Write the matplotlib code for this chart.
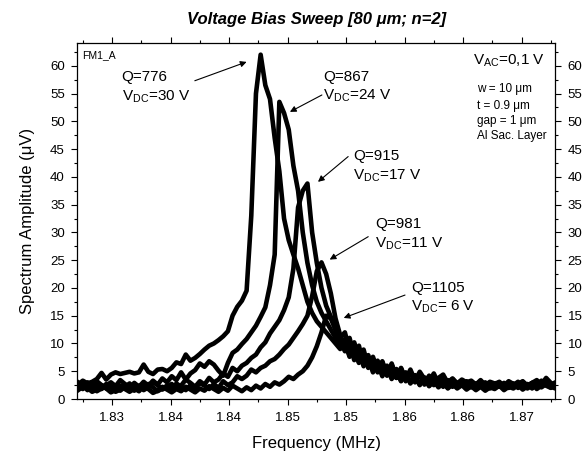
import matplotlib
matplotlib.use("Agg")
import matplotlib.pyplot as plt
from matplotlib.ticker import FixedLocator

plt.rcParams['font.family'] = ['Liberation Sans', 'DejaVu Sans']
plt.rcParams['mathtext.fontset'] = 'custom'
plt.rcParams['mathtext.rm'] = 'Liberation Sans'
plt.rcParams['mathtext.it'] = 'Liberation Sans:italic'
plt.rcParams['mathtext.bf'] = 'Liberation Sans:bold'

# sweep frequencies (MHz)
freq = [
    1.8296, 1.8300, 1.8304, 1.8308, 1.8312, 1.8316, 1.8320, 1.8324, 1.8328, 1.8332,
    1.8336, 1.8340, 1.8344, 1.8348, 1.8352, 1.8356, 1.8360, 1.8364, 1.8368, 1.8372,
    1.8376, 1.8380, 1.8384, 1.8388, 1.8392, 1.8396, 1.8400, 1.8404, 1.8408, 1.8412,
    1.8416, 1.8420, 1.8424, 1.8428, 1.8432, 1.8436, 1.8440, 1.8444, 1.8448, 1.8452,
    1.8456, 1.8460, 1.8464, 1.8468, 1.8472, 1.8476, 1.8480, 1.8484, 1.8488, 1.8492,
    1.8496, 1.8500, 1.8504, 1.8508, 1.8512, 1.8516, 1.8520, 1.8524, 1.8528, 1.8532,
    1.8536, 1.8540, 1.8544, 1.8548, 1.8552, 1.8556, 1.8560, 1.8564, 1.8568, 1.8572,
    1.8576, 1.8580, 1.8584, 1.8588, 1.8592, 1.8596, 1.8600, 1.8604, 1.8608, 1.8612,
    1.8616, 1.8620, 1.8624, 1.8628, 1.8632, 1.8636, 1.8640, 1.8644, 1.8648, 1.8652,
    1.8656, 1.8660, 1.8664, 1.8668, 1.8672, 1.8676, 1.8680, 1.8684, 1.8688, 1.8692,
    1.8696, 1.8700, 1.8704,
]

# spectrum amplitude (uV) for each DC bias
amp_30v = [
    2.6, 3.3, 2.8, 3.1, 3.6, 4.7, 3.5, 4.4, 4.8, 4.5,
    4.7, 4.9, 4.6, 4.8, 6.2, 4.9, 4.5, 5.3, 5.4, 5.0,
    5.6, 6.6, 6.3, 8.0, 6.9, 7.4, 8.1, 8.9, 9.6, 10.0,
    10.6, 11.3, 12.2, 15.0, 16.6, 17.7, 19.5, 33.0, 55.0, 62.0,
    56.5, 54.0, 47.0, 41.0, 32.5, 28.6, 26.0, 23.5, 20.5, 17.5,
    15.5, 14.0, 13.0, 12.0, 11.0, 10.0, 9.0, 10.2, 7.6, 9.0,
    6.5, 8.0, 5.6, 7.2, 5.0, 6.8, 4.4, 6.2, 3.9, 5.6,
    3.6, 5.3, 3.3, 4.9, 3.6, 3.1, 4.6, 2.8, 4.1, 3.0,
    3.7, 2.8, 3.5, 3.0, 3.3, 2.6, 3.4, 2.5, 3.1, 2.8,
    3.0, 2.4, 3.2, 2.7, 2.5, 3.1, 2.3, 2.9, 3.4, 2.6,
    3.8, 2.9, 2.4,
]
amp_24v = [
    3.0, 2.4, 1.6, 2.1, 3.2, 2.5, 1.9, 2.8, 2.3, 3.4,
    2.7, 2.0, 2.9, 2.2, 3.1, 2.4, 3.3, 2.6, 3.7, 3.0,
    4.1, 3.4, 4.8, 3.5, 4.6, 5.2, 6.4, 5.8, 6.8, 6.2,
    5.1, 4.2, 6.5, 8.3, 8.9, 9.9, 10.8, 12.0, 13.2, 14.8,
    16.5, 20.5, 26.0, 53.5, 51.5, 48.5, 42.0, 37.5, 30.0, 24.5,
    20.5, 17.5, 15.5, 14.0, 12.5, 11.0, 9.5, 10.6, 7.8, 9.4,
    6.6, 8.1, 5.9, 7.3, 4.8, 6.5, 4.2, 6.0, 3.8, 5.4,
    3.2, 4.8, 3.0, 4.5, 2.6, 4.0, 2.5, 3.7, 2.2, 3.4,
    2.2, 2.9, 2.5, 3.2, 2.1, 2.8, 2.3, 3.0, 1.9, 2.6,
    2.2, 2.9, 2.0, 2.5, 3.1, 2.2, 2.7, 1.9, 2.6, 3.3,
    2.4, 2.0, 2.7,
]
amp_17v = [
    1.6, 2.2, 3.0, 2.0, 2.6, 1.8, 2.4, 3.0, 2.3, 1.5,
    2.2, 2.8, 1.9, 2.4, 1.6, 2.1, 3.0, 2.5, 1.7, 2.2,
    2.7, 1.9, 2.4, 3.5, 2.9, 2.2, 3.2, 2.6, 3.8, 3.0,
    3.5, 4.6, 4.0, 5.6, 5.0, 6.0, 6.5, 7.4, 8.0, 9.3,
    10.2, 11.8, 13.0, 14.2, 16.0, 18.3, 23.5, 34.5, 37.5, 38.8,
    30.0, 24.5, 20.0, 16.8, 14.8, 12.5, 11.0, 12.0, 8.8, 10.2,
    7.4, 8.9, 5.8, 7.6, 5.0, 6.6, 4.3, 6.4, 3.8, 5.5,
    3.4, 5.0, 3.1, 4.6, 2.9, 4.2, 3.0, 3.8, 4.4, 2.8,
    3.6, 2.7, 3.3, 2.4, 3.0, 2.6, 3.2, 2.2, 2.9, 2.5,
    3.1, 2.3, 2.8, 2.1, 2.7, 3.2, 2.4, 2.9, 2.2, 2.8,
    3.4, 2.6, 3.0,
]
amp_11v = [
    2.3, 1.8, 2.8, 2.2, 1.4, 1.9, 2.7, 2.1, 1.3, 1.7,
    2.6, 2.0, 1.5, 2.3, 1.8, 2.7, 2.1, 1.4, 1.9, 2.4,
    1.7, 2.8, 2.2, 1.6, 2.5, 1.9, 2.9, 2.4, 1.8, 2.7,
    2.0, 3.2, 2.5, 3.0, 4.1, 3.6, 4.2, 5.3, 4.8, 5.6,
    6.0, 6.8, 7.2, 8.0, 9.0, 9.8, 11.0, 12.2, 13.5, 15.0,
    18.5, 23.0, 24.6, 22.5, 19.0, 14.5, 11.5, 9.6, 11.0, 7.8,
    9.6, 6.2, 7.9, 5.1, 6.9, 4.4, 6.0, 3.9, 5.4, 3.3,
    4.8, 2.9, 4.3, 2.6, 3.9, 2.4, 3.5, 2.2, 3.2, 2.0,
    3.0, 2.2, 2.7, 2.0, 2.6, 2.1, 2.5, 1.8, 2.4, 2.0,
    2.6, 1.9, 2.3, 2.8, 2.0, 2.5, 1.9, 2.4, 3.0, 2.1,
    2.7, 2.2, 1.9,
]
amp_6v = [
    1.9, 2.6, 2.0, 1.3, 1.7, 2.5, 1.9, 1.2, 1.6, 2.4,
    1.8, 1.3, 1.9, 1.4, 2.3, 1.8, 1.1, 1.5, 2.2, 1.7,
    1.2, 1.8, 1.4, 2.2, 1.7, 1.2, 1.9, 1.5, 2.3, 1.8,
    1.3, 2.0, 1.5, 2.4, 1.9, 1.4, 2.1, 1.6, 2.4, 1.9,
    2.7, 2.2, 3.0, 2.6, 3.2, 4.0, 3.6, 4.4, 5.0, 6.0,
    7.5, 9.5, 12.0, 15.0, 14.5, 12.5, 10.5, 8.6, 10.0, 7.0,
    8.6, 5.9, 7.4, 4.8, 6.4, 4.1, 5.7, 3.6, 5.0, 3.2,
    4.5, 2.8, 4.1, 2.5, 3.7, 2.3, 3.3, 2.1, 3.0, 1.9,
    2.7, 1.9, 2.5, 1.7, 2.3, 1.6, 2.2, 1.5, 2.1, 1.8,
    2.4, 1.6, 2.2, 1.9, 2.5, 1.7, 2.3, 2.9, 1.8, 2.4,
    3.0, 2.1, 2.6,
]

xticks = [1.8325, 1.8375, 1.8425, 1.8475, 1.8525, 1.8575, 1.8625, 1.8675]
xtick_labels = ['1.83', '1.84', '1.84', '1.85', '1.85', '1.86', '1.86', '1.87']
yticks = [0, 5, 10, 15, 20, 25, 30, 35, 40, 45, 50, 55, 60]

# (Q text, V_DC text, arrow tip freq, arrow tip amplitude)
notes = [
    ('Q=776', 'V$_{\\mathrm{DC}}$=30 V', 1.8440, 60.7),
    ('Q=867', 'V$_{\\mathrm{DC}}$=24 V', 1.8477, 51.7),
    ('Q=915', 'V$_{\\mathrm{DC}}$=17 V', 1.8501, 39.1),
    ('Q=981', 'V$_{\\mathrm{DC}}$=11 V', 1.8511, 25.1),
    ('Q=1105', 'V$_{\\mathrm{DC}}$= 6 V', 1.8523, 14.6),
]
text_pos = [(0.093, 0.892, 0.837), (0.515, 0.894, 0.842), (0.578, 0.672, 0.617),
            (0.623, 0.479, 0.426), (0.699, 0.301, 0.248)]
arrow_tail = [(0.246, 0.894), (0.512, 0.854), (0.567, 0.681), (0.609, 0.456), (0.686, 0.292)]


fig = plt.figure(figsize=(5.87, 4.57), dpi=100)
ax = fig.add_axes([0.1317, 0.1269, 0.8138, 0.779])

for amp in [amp_30v, amp_24v, amp_17v, amp_11v, amp_6v]:
    ax.plot(freq, amp, color='black', lw=3.3, solid_joinstyle='round')

ax.set_xlim(1.82953, 1.87036)
ax.set_ylim(0, 64.1)
ax.xaxis.set_major_locator(FixedLocator(xticks))
ax.set_xticklabels(xtick_labels)
ax.xaxis.set_minor_locator(FixedLocator([t + 0.0025 for t in xticks[:-1]] + [1.8300, 1.8700]))
ax.set_yticks(yticks)
ax.yaxis.set_minor_locator(FixedLocator([y + 2.5 for y in yticks]))
ax.tick_params(which='both', direction='out', top=True, right=True,
               labelright=True, labelsize=9.5, width=0.8)
ax.tick_params(which='major', length=4.5, pad=4.5)
ax.tick_params(which='minor', length=2.5)
for sp in ax.spines.values():
    sp.set_linewidth(0.9)

ax.set_xlabel('Frequency (MHz)', fontsize=12, labelpad=9)
ax.set_ylabel('Spectrum Amplitude (μV)', fontsize=12, labelpad=11)
ax.set_title('Voltage Bias Sweep [80 μm; n=2]', fontsize=12,
             fontweight='bold', fontstyle='italic', pad=14)

for (q, v, fx, fy), (tx, ty1, ty2), (ax0, ay0) in zip(notes, text_pos, arrow_tail):
    ax.text(tx, ty1, q, transform=ax.transAxes, fontsize=11, va='baseline')
    ax.text(tx, ty2, v, transform=ax.transAxes, fontsize=11, va='baseline')
    ax.annotate('', xy=(fx, fy), xycoords='data',
                xytext=(ax0, ay0), textcoords='axes fraction',
                arrowprops=dict(arrowstyle='-|>', color='black', lw=0.8,
                                mutation_scale=9, shrinkA=0, shrinkB=0))

ax.text(0.829, 0.938, 'V$_{\\mathrm{AC}}$=0,1 V', transform=ax.transAxes,
        fontsize=11, va='baseline')
for label, ty in [('w = 10 μm', 0.861), ('t = 0.9 μm', 0.816),
                  ('gap = 1 μm', 0.773), ('Al Sac. Layer', 0.730)]:
    ax.text(0.836, ty, label, transform=ax.transAxes, fontsize=8.5, va='baseline')
ax.text(0.0092, 0.958, 'FM1_A', transform=ax.transAxes, fontsize=7.5,
        va='baseline')

fig.savefig('out.png', dpi=100)
